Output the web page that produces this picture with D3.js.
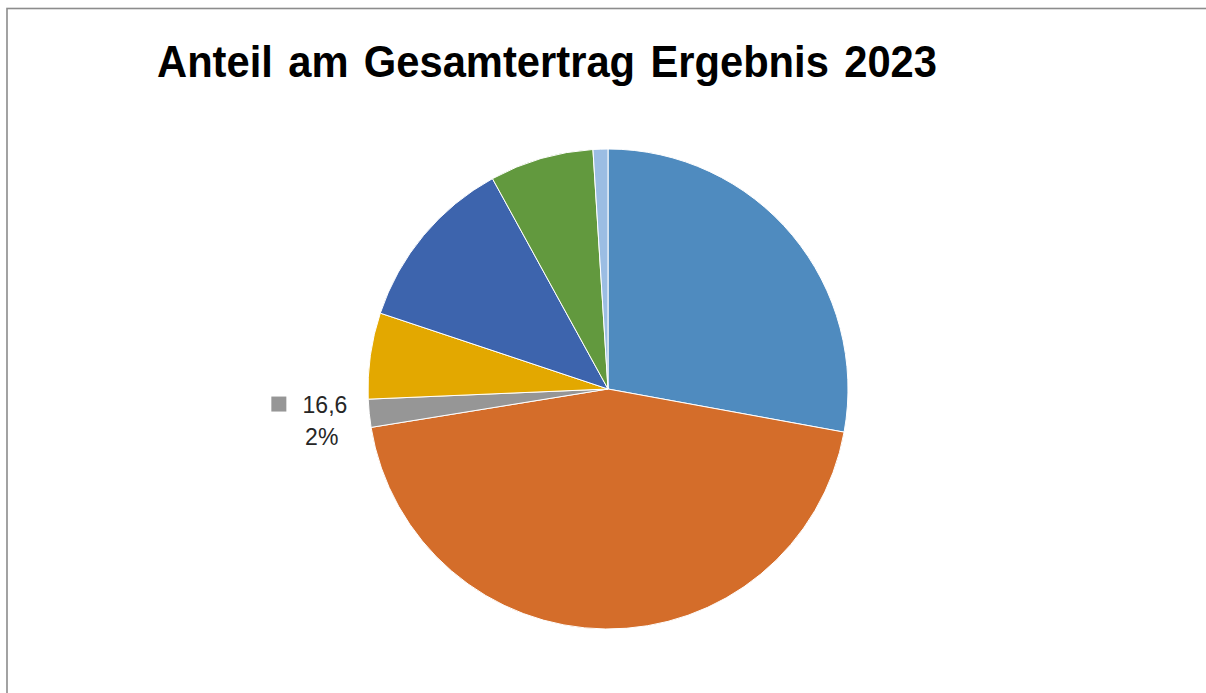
<!DOCTYPE html>
<html>
<head>
<meta charset="utf-8">
<script src="https://cdn.jsdelivr.net/npm/d3@7"></script>
<style>
  html, body { margin: 0; padding: 0; background: #fff; }
  svg { display: block; }
</style>
</head>
<body>
<svg id="chart" width="1206" height="693"></svg>
<script>
// Slices in clockwise order, starting at 12 o'clock
const categories = ["Posten 1", "Posten 2", "Posten 3", "Posten 4", "Posten 5", "Posten 6", "Posten 7"];
const values = [245.5, 392.5, 16.6, 51.0, 104.7, 61.6, 8.8];
const colors = ["#4f8bbf", "#d46d2a", "#969696", "#e3a800", "#3d64ad", "#62993e", "#9bbde3"];
// Only this slice carries a data label
const labelled = ["Posten 3"];
const title = "Anteil am Gesamtertrag Ergebnis 2023";

const data = categories.map((c, i) => ({ name: c, value: values[i], color: colors[i] }));
const total = d3.sum(values);

const svg = d3.select("#chart");
const W = 1206, H = 693;

// chart area frame
svg.append("rect")
  .attr("x", 7).attr("y", 8.5)
  .attr("width", W + 10).attr("height", H + 10)
  .attr("fill", "#fff")
  .attr("stroke", "#8c8c8c")
  .attr("stroke-width", 1.6);

svg.append("text")
  .attr("x", 157).attr("y", 77)
  .attr("font-family", "Liberation Sans, Arial, sans-serif")
  .attr("font-weight", "bold")
  .attr("font-size", 45)
  .attr("word-spacing", 4)
  .attr("textLength", 780)
  .attr("lengthAdjust", "spacingAndGlyphs")
  .attr("fill", "#000")
  .text(title);

const cx = 608, cy = 389, r = 240;
const g = svg.append("g").attr("transform", `translate(${cx},${cy})`);

const pie = d3.pie().value(d => d.value).sort(null).startAngle(0).endAngle(2 * Math.PI);
const arc = d3.arc().innerRadius(0).outerRadius(r);
const arcs = pie(data);

g.selectAll("path.slice")
  .data(arcs)
  .join("path")
  .attr("class", "slice")
  .attr("d", arc)
  .attr("fill", d => d.data.color)
  .attr("stroke", "#fff")
  .attr("stroke-width", 1);

// outside data label: legend key, value, percentage
const labelArc = d3.arc().innerRadius(r + 22).outerRadius(r + 22);
const fmtVal = v => d3.format(".1f")(v).replace(".", ",");
const fmtPct = v => d3.format(".0%")(v);

arcs.filter(d => labelled.includes(d.data.name)).forEach(d => {
  const [lx, ly] = labelArc.centroid(d);
  const lg = g.append("g").attr("transform", `translate(${lx},${ly})`);
  const font = "Liberation Sans, Arial, sans-serif";
  lg.append("rect")
    .attr("x", -76).attr("y", -19)
    .attr("width", 15).attr("height", 15)
    .attr("fill", d.data.color);
  lg.append("text")
    .attr("x", 0).attr("y", -3)
    .attr("text-anchor", "end")
    .attr("font-family", font)
    .attr("font-size", 23)
    .attr("fill", "#262626")
    .text(fmtVal(d.data.value));
  lg.append("text")
    .attr("x", -9).attr("y", 29)
    .attr("text-anchor", "end")
    .attr("font-family", font)
    .attr("font-size", 23)
    .attr("fill", "#262626")
    .text(fmtPct(d.data.value / total));
});
</script>
</body>
</html>
